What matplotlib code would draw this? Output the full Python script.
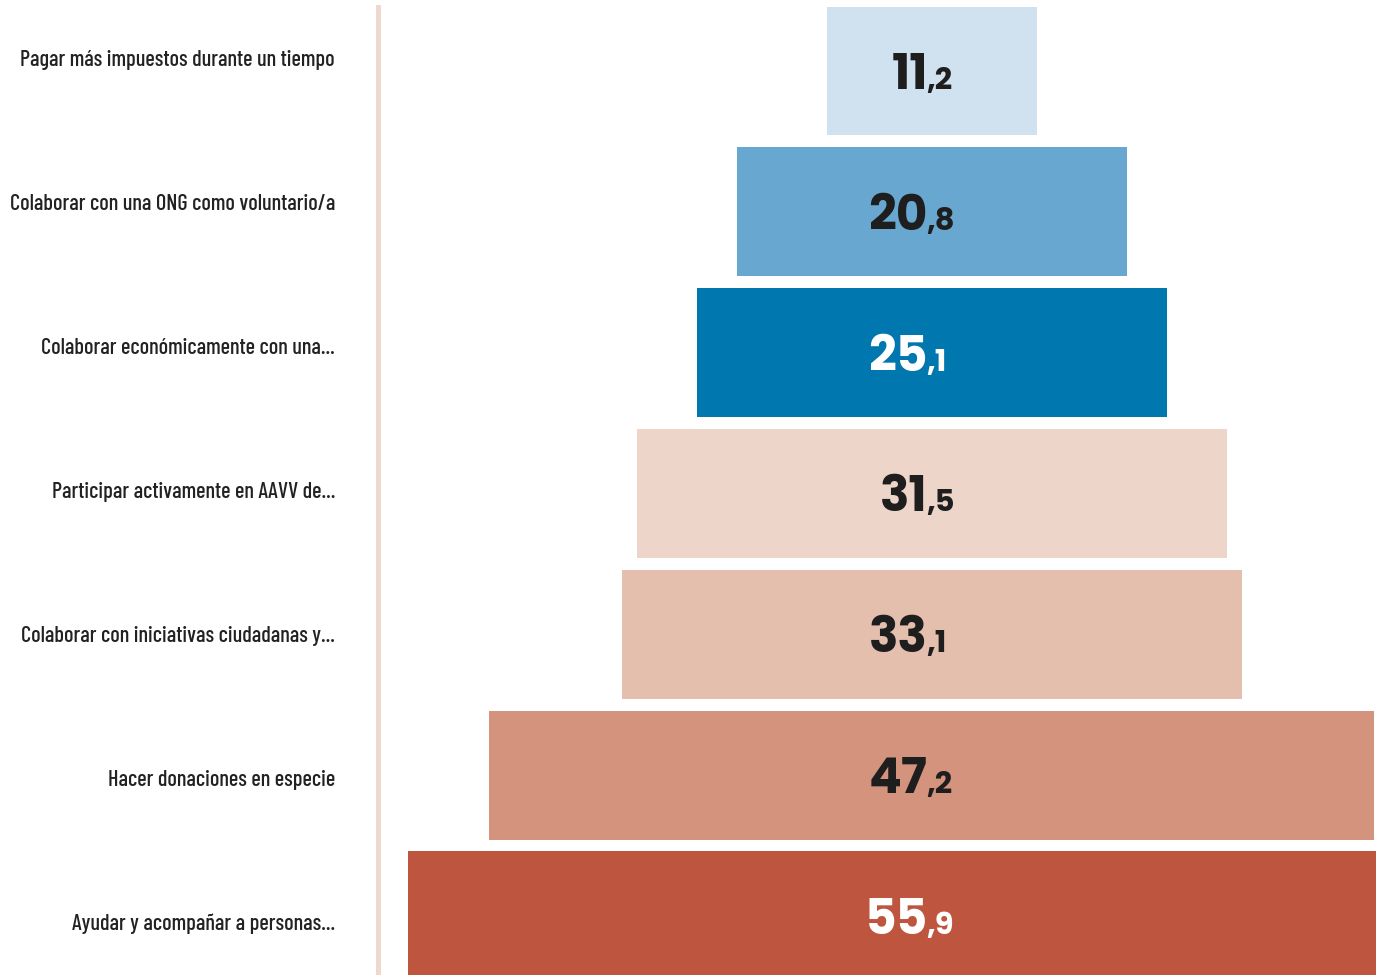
import matplotlib
matplotlib.use("Agg")
import matplotlib.pyplot as plt

categories = [
    "Pagar más impuestos durante un tiempo",
    "Colaborar con una ONG como voluntario/a",
    "Colaborar económicamente con una...",
    "Participar activamente en AAVV de...",
    "Colaborar con iniciativas ciudadanas y...",
    "Hacer donaciones en especie",
    "Ayudar y acompañar a personas...",
]
values = [11.2, 20.8, 25.1, 31.5, 33.1, 47.2, 55.9]
bar_colors = ["#d0e1f0", "#68a8d0", "#0077ae", "#edd5c9", "#e4bfae", "#d3937d", "#bd553f"]
text_colors = ["#1e1e1e", "#1e1e1e", "#ffffff", "#1e1e1e", "#1e1e1e", "#1e1e1e", "#ffffff"]

W, H = 1376, 975
fig = plt.figure(figsize=(W / 100, H / 100), dpi=100)

# main funnel axes
left_px = 377.5
top_px = 7
ax = fig.add_axes([left_px / W, 0, (W - left_px) / W, (H - top_px) / H])
ax.set_xlim(-29.57, 23.68)
ax.set_ylim(6.42, -0.4545)

ypos = list(range(len(values)))
ax.barh(ypos, values, left=[-v / 2 for v in values], height=0.916,
        color=bar_colors, edgecolor="none")

num_font = dict(family=["Poppins", "DejaVu Sans"], weight="bold")
for i, v in enumerate(values):
    s = f"{v:.1f}".split(".")
    ax.annotate(s[0], xy=(0, i), xytext=(-3, -13), textcoords="offset points",
                ha="right", va="baseline", fontsize=35, color=text_colors[i], **num_font)
    ax.annotate("," + s[1], xy=(0, i), xytext=(-4, -13), textcoords="offset points",
                ha="left", va="baseline", fontsize=22, color=text_colors[i], **num_font)

for side in ["top", "right", "bottom"]:
    ax.spines[side].set_visible(False)
ax.spines["left"].set_color("#efd8cf")
ax.spines["left"].set_linewidth(3.6)
ax.set_xticks([])
ax.set_yticks([])

# label axes
lab_x = 335
axl = fig.add_axes([lab_x / W, 0, 0.001, 1])
axl.set_ylim(6.368, -0.403)
axl.set_yticks(ypos)
axl.set_yticklabels(categories, fontsize=16, color="#222222", weight=500,
                    family=["Barlow Condensed", "Asap Condensed", "DejaVu Sans"])
axl.tick_params(axis="y", length=0, pad=0)
axl.set_xticks([])
for sp in axl.spines.values():
    sp.set_visible(False)
axl.patch.set_visible(False)

fig.savefig("out.png", dpi=100, facecolor="white")
